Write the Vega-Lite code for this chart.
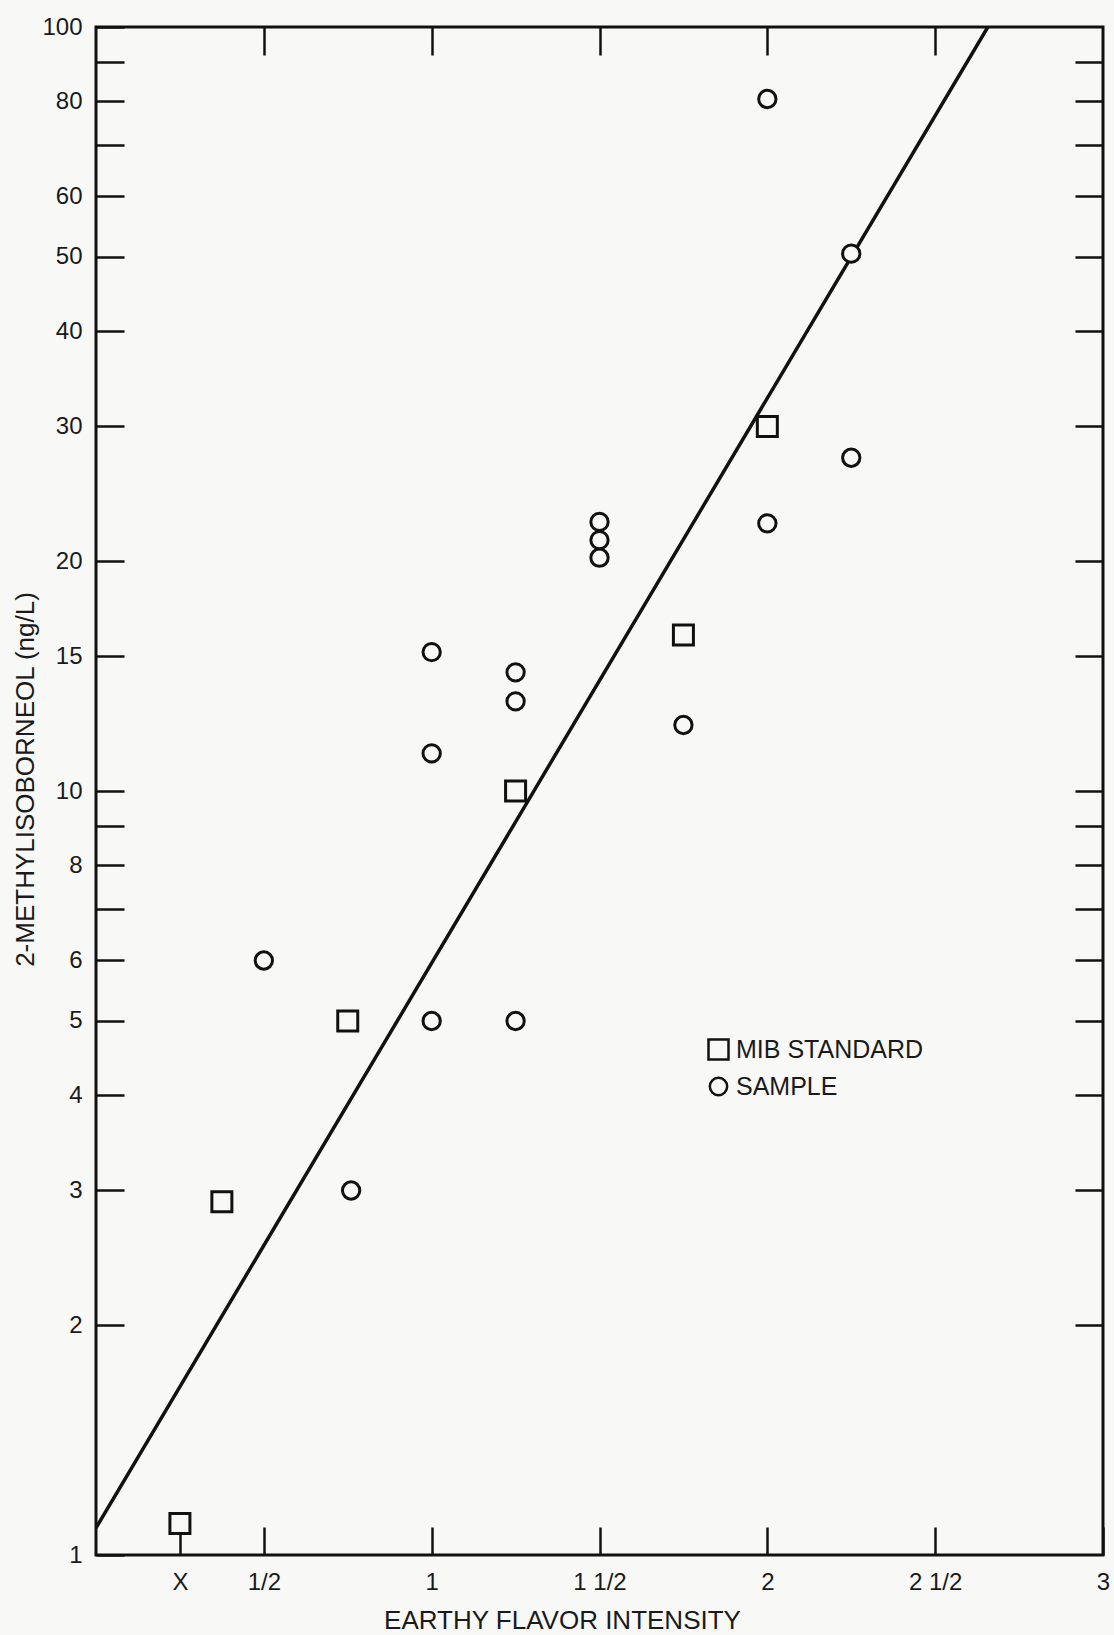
{
  "$schema": "https://vega.github.io/schema/vega-lite/v6.json",
  "width": 1007,
  "height": 1528,
  "autosize": {"type": "none"},
  "padding": {"left": 96, "top": 27, "right": 11, "bottom": 80},
  "background": "#f8f8f6",
  "config": {
    "view": {"stroke": "#111111", "strokeWidth": 3, "fill": "#f8f8f6"},
    "font": "Liberation Sans",
    "axis": {
      "grid": false,
      "domain": false,
      "tickColor": "#111111",
      "tickWidth": 2.5,
      "labelColor": "#1a1a1a",
      "labelFontSize": 24,
      "labelFont": "Liberation Sans",
      "titleFont": "Liberation Sans",
      "titleColor": "#1a1a1a",
      "titleFontSize": 26,
      "titleFontWeight": "normal",
      "labelOverlap": false,
      "labelFlush": false
    },
    "legend": {
      "orient": "none",
      "legendX": 610,
      "legendY": 1010,
      "title": null,
      "padding": 0,
      "labelFontSize": 25,
      "labelColor": "#1a1a1a",
      "labelFont": "Liberation Sans",
      "labelLimit": 0,
      "symbolSize": 190,
      "symbolStrokeWidth": 2.5,
      "symbolOpacity": 1,
      "rowPadding": 7,
      "labelOffset": 5
    }
  },
  "datasets": {
    "points": [
      {"intensity": 0.25, "mib": 1.1, "series": "MIB STANDARD"},
      {"intensity": 0.375, "mib": 2.9, "series": "MIB STANDARD"},
      {"intensity": 0.75, "mib": 5, "series": "MIB STANDARD"},
      {"intensity": 1.25, "mib": 10, "series": "MIB STANDARD"},
      {"intensity": 1.75, "mib": 16, "series": "MIB STANDARD"},
      {"intensity": 2, "mib": 30, "series": "MIB STANDARD"},
      {"intensity": 0.5, "mib": 6, "series": "SAMPLE"},
      {"intensity": 0.76, "mib": 3, "series": "SAMPLE"},
      {"intensity": 1, "mib": 5, "series": "SAMPLE"},
      {"intensity": 1, "mib": 11.2, "series": "SAMPLE"},
      {"intensity": 1, "mib": 15.2, "series": "SAMPLE"},
      {"intensity": 1.25, "mib": 5, "series": "SAMPLE"},
      {"intensity": 1.25, "mib": 13.1, "series": "SAMPLE"},
      {"intensity": 1.25, "mib": 14.3, "series": "SAMPLE"},
      {"intensity": 1.5, "mib": 20.2, "series": "SAMPLE"},
      {"intensity": 1.5, "mib": 21.3, "series": "SAMPLE"},
      {"intensity": 1.5, "mib": 22.5, "series": "SAMPLE"},
      {"intensity": 1.75, "mib": 12.2, "series": "SAMPLE"},
      {"intensity": 2, "mib": 80.5, "series": "SAMPLE"},
      {"intensity": 2, "mib": 22.4, "series": "SAMPLE"},
      {"intensity": 2.25, "mib": 50.5, "series": "SAMPLE"},
      {"intensity": 2.25, "mib": 27.3, "series": "SAMPLE"}
    ],
    "fit": [
      {"intensity": 0, "mib": 1.085},
      {"intensity": 2.657, "mib": 100}
    ]
  },
  "layer": [
    {
      "data": {"name": "fit"},
      "mark": {"type": "line", "color": "#111111", "strokeWidth": 3.5, "clip": true},
      "encoding": {
        "x": {
          "field": "intensity", "type": "quantitative",
          "scale": {"domain": [0, 3], "nice": false, "zero": false},
          "axis": {
            "orient": "bottom",
            "values": [0.25, 0.5, 1, 1.5, 2, 2.5, 3],
            "labelExpr": "datum.value == 0.25 ? 'X' : datum.value == 0.5 ? '1/2' : datum.value == 1.5 ? '1 1/2' : datum.value == 2.5 ? '2 1/2' : datum.value == 1 ? '1' : datum.value == 2 ? '2' : '3'",
            "tickSize": -28,
            "labelPadding": 43,
            "title": "EARTHY FLAVOR INTENSITY",
            "titleX": 466,
            "titleY": 73,
            "titleBaseline": "alphabetic",
            "titleAlign": "center"
          }
        },
        "y": {
          "field": "mib", "type": "quantitative",
          "scale": {"type": "log", "domain": [1, 100], "nice": false},
          "axis": {
            "orient": "left",
            "values": [1, 2, 3, 4, 5, 6, 7, 8, 9, 10, 15, 20, 30, 40, 50, 60, 70, 80, 90, 100],
            "labelExpr": "indexof([7, 9, 70, 90], datum.value) >= 0 ? '' : '' + datum.value",
            "tickSize": -28,
            "labelPadding": 42,
            "title": "2-METHYLISOBORNEOL (ng/L)",
            "titleAngle": -90,
            "titleX": -63,
            "titleY": 752,
            "titleBaseline": "alphabetic",
            "titleAlign": "center"
          }
        }
      }
    },
    {
      "data": {"name": "points"},
      "mark": {"type": "point", "filled": false, "fill": "#f8f8f6", "strokeWidth": 3, "opacity": 1},
      "encoding": {
        "x": {
          "field": "intensity", "type": "quantitative",
          "scale": {"domain": [0, 3], "nice": false, "zero": false},
          "axis": {
            "orient": "top",
            "values": [0.5, 1, 1.5, 2, 2.5],
            "tickSize": -28,
            "labels": false,
            "title": null
          }
        },
        "y": {
          "field": "mib", "type": "quantitative",
          "scale": {"type": "log", "domain": [1, 100], "nice": false},
          "axis": {
            "orient": "right",
            "values": [2, 3, 4, 5, 6, 7, 8, 9, 10, 15, 20, 30, 40, 50, 60, 70, 80, 90],
            "tickSize": -28,
            "labels": false,
            "title": null
          }
        },
        "color": {
          "field": "series", "type": "nominal",
          "scale": {"domain": ["MIB STANDARD", "SAMPLE"], "range": ["#111111", "#111111"]},
          "legend": {
            "title": null,
            "encode": {"symbols": {"update": {"size": {"value": 190}, "opacity": {"value": 1}, "strokeWidth": {"value": 2.5}}}}
          }
        },
        "shape": {
          "field": "series", "type": "nominal",
          "scale": {"domain": ["MIB STANDARD", "SAMPLE"], "range": ["square", "circle"]},
          "legend": {
            "title": null,
            "encode": {"symbols": {"update": {"size": {"value": 190}, "opacity": {"value": 1}, "strokeWidth": {"value": 2.5}}}}
          }
        },
        "size": {
          "field": "series", "type": "nominal",
          "scale": {"domain": ["MIB STANDARD", "SAMPLE"], "range": [400, 300]},
          "legend": null
        }
      }
    }
  ],
  "resolve": {"axis": {"x": "independent", "y": "independent"}}
}
